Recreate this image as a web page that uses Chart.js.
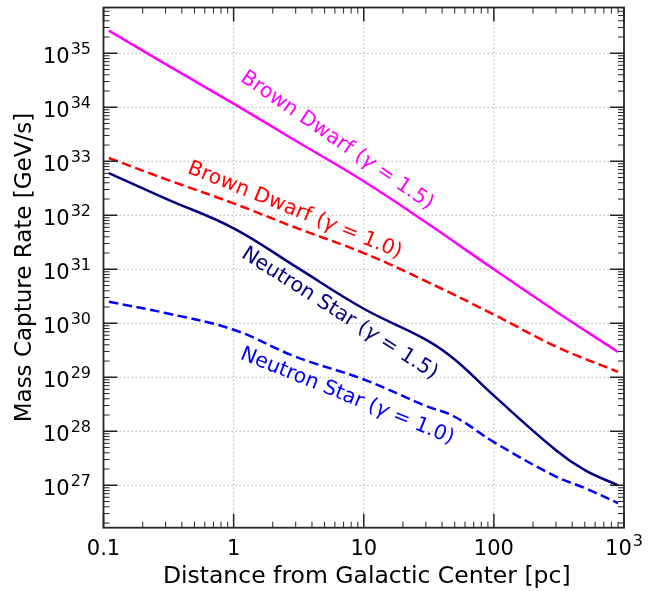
<!DOCTYPE html>
<html>
<head>
<meta charset="utf-8">
<script src="https://cdn.jsdelivr.net/npm/chart.js@4"></script>
<style>
  body { margin: 0; background: #fff; }
  canvas { display: block; }
</style>
</head>
<body>
<canvas id="captureChart" width="667" height="591" style="width:667px;height:591px"></canvas>
<script>
// axis limits (pc and GeV/s)
const xMin = 0.1, xMax = 1000;
const yMin = 1.64e26, yMax = 7.05e35;

// brown dwarf curves
const bdDist = [0.11, 0.3, 1, 3, 10, 30, 100, 300, 900];
const bdGamma15 = [2.63e35, 6.31e34, 1.17e34, 2.4e33, 4.27e32, 7.41e31, 1.0e31, 1.66e30, 2.95e29];
const bdGamma10 = [1.15e33, 4.68e32, 1.66e32, 5.9e31, 2.0e31, 6.03e30, 1.45e30, 3.72e29, 1.26e29];

// neutron star curves
const nsDist = [0.11, 0.3, 1, 3, 10, 30, 50, 100, 300, 500, 900];
const nsGamma15 = [6.03e32, 2.04e32, 5.75e31, 1.12e31, 1.86e30, 5.0e29, 2.14e29, 4.57e28, 4.47e27, 1.91e27, 1.0e27];
const nsGamma10 = [2.51e30, 1.55e30, 7.59e29, 2.4e29, 9.12e28, 2.95e28, 1.86e28, 6.31e27, 1.45e27, 8.9e26, 4.68e26];

const xTicks = [0.1, 1, 10, 100, 1000];
const xTickLabels = ["0.1", "1", "10", "100", "10^3"];
const yTicks = [1e27, 1e28, 1e29, 1e30, 1e31, 1e32, 1e33, 1e34, 1e35];
const yTickLabels = ["10^27", "10^28", "10^29", "10^30", "10^31", "10^32", "10^33", "10^34", "10^35"];

// curve labels: text, anchor (data coords), angle in degrees
const curveLabels = [
  { pre: "Brown Dwarf (", post: " = 1.5)", x: 5.9, y: 2.0e33, angle: 34.5, color: "#ff00ff" },
  { pre: "Brown Dwarf (", post: " = 1.0)", x: 2.85, y: 1.0e32, angle: 22, color: "#ff0000" },
  { pre: "Neutron Star (", post: " = 1.5)", x: 6.2, y: 1.25e30, angle: 32.5, color: "#000080" },
  { pre: "Neutron Star (", post: " = 1.0)", x: 7.2, y: 3.6e28, angle: 22, color: "#0000ff" }
];

const FONT = "'DejaVu Sans', 'Liberation Sans', sans-serif";
Chart.defaults.font.family = FONT;

function toPoints(xs, ys) {
  return xs.map((x, i) => ({ x: x, y: ys[i] }));
}

function drawPow(ctx, label, x, baseY, align) {
  const parts = label.split("^");
  ctx.font = "21px " + FONT;
  const wBase = ctx.measureText(parts[0]).width;
  let wExp = 0;
  if (parts[1]) {
    ctx.font = "16px " + FONT;
    wExp = ctx.measureText(parts[1]).width + 1;
  }
  const total = wBase + wExp;
  let start = align === "right" ? x - total : x - total / 2;
  ctx.textAlign = "left";
  ctx.textBaseline = "alphabetic";
  ctx.font = "21px " + FONT;
  ctx.fillText(parts[0], start, baseY);
  if (parts[1]) {
    ctx.font = "16px " + FONT;
    ctx.fillText(parts[1], start + wBase + 1, baseY - 9);
  }
}

function minorValues(lo, hi) {
  const out = [];
  for (let e = Math.floor(Math.log10(lo)); e <= Math.ceil(Math.log10(hi)); e++) {
    for (let m = 2; m <= 9; m++) {
      const v = m * Math.pow(10, e);
      if (v > lo && v < hi) out.push(v);
    }
  }
  return out;
}

const framePlugin = {
  id: "frame",
  beforeDatasetsDraw(chart) {
    const { ctx, chartArea: a, scales: { x, y } } = chart;
    ctx.save();
    ctx.strokeStyle = "#b0b0b0";
    ctx.lineWidth = 1;
    ctx.setLineDash([1.5, 2.5]);
    xTicks.forEach(v => {
      const px = x.getPixelForValue(v);
      ctx.beginPath(); ctx.moveTo(px, a.top); ctx.lineTo(px, a.bottom); ctx.stroke();
    });
    yTicks.forEach(v => {
      const py = y.getPixelForValue(v);
      ctx.beginPath(); ctx.moveTo(a.left, py); ctx.lineTo(a.right, py); ctx.stroke();
    });
    ctx.restore();
  },
  afterDraw(chart) {
    const { ctx, chartArea: a, scales: { x, y } } = chart;
    ctx.save();
    ctx.strokeStyle = "#222";

    // inward ticks on all four sides
    const tickX = (vals, len, w) => {
      ctx.lineWidth = w;
      vals.forEach(v => {
        const px = x.getPixelForValue(v);
        ctx.beginPath();
        ctx.moveTo(px, a.bottom); ctx.lineTo(px, a.bottom - len);
        ctx.moveTo(px, a.top); ctx.lineTo(px, a.top + len);
        ctx.stroke();
      });
    };
    const tickY = (vals, len, w) => {
      ctx.lineWidth = w;
      vals.forEach(v => {
        const py = y.getPixelForValue(v);
        ctx.beginPath();
        ctx.moveTo(a.left, py); ctx.lineTo(a.left + len, py);
        ctx.moveTo(a.right, py); ctx.lineTo(a.right - len, py);
        ctx.stroke();
      });
    };
    tickX(minorValues(xMin, xMax), 6, 1);
    tickX(xTicks, 14, 1.5);
    tickY(minorValues(yMin, yMax), 6, 1);
    tickY(yTicks, 14, 1.5);

    // spines
    ctx.lineWidth = 1.8;
    ctx.strokeStyle = "#262626";
    ctx.strokeRect(a.left, a.top, a.right - a.left, a.bottom - a.top);

    // tick labels
    ctx.fillStyle = "#000";
    xTicks.forEach((v, i) => drawPow(ctx, xTickLabels[i], x.getPixelForValue(v), 555, "center"));
    yTicks.forEach((v, i) => drawPow(ctx, yTickLabels[i], 91, y.getPixelForValue(v) + 9.5, "right"));

    // axis titles
    ctx.font = "23.5px " + FONT;
    ctx.textAlign = "center";
    ctx.textBaseline = "alphabetic";
    ctx.fillText("Distance from Galactic Center [pc]", (a.left + a.right) / 2 + 3, 583);
    ctx.font = "23px " + FONT;
    ctx.save();
    ctx.translate(31, (a.top + a.bottom) / 2);
    ctx.rotate(-Math.PI / 2);
    ctx.fillText("Mass Capture Rate [GeV/s]", 0, 0);
    ctx.restore();

    // curve labels
    curveLabels.forEach(l => {
      ctx.save();
      ctx.translate(x.getPixelForValue(l.x), y.getPixelForValue(l.y));
      ctx.rotate(l.angle * Math.PI / 180);
      ctx.fillStyle = l.color;
      ctx.textAlign = "left";
      ctx.font = "20.5px " + FONT;
      const w1 = ctx.measureText(l.pre).width;
      const w3 = ctx.measureText(l.post).width;
      ctx.font = "italic 20.5px " + FONT;
      const w2 = ctx.measureText("\u03b3").width;
      const cx = -(w1 + w2 + w3) / 2;
      ctx.font = "20.5px " + FONT;
      ctx.fillText(l.pre, cx, 0);
      ctx.font = "italic 20.5px " + FONT;
      ctx.fillText("\u03b3", cx + w1, 0);
      ctx.font = "20.5px " + FONT;
      ctx.fillText(l.post, cx + w1 + w2, 0);
      ctx.restore();
    });
    ctx.restore();
  }
};

const ctx = document.getElementById("captureChart").getContext("2d");
new Chart(ctx, {
  type: "line",
  data: {
    datasets: [
      { label: "Brown Dwarf (γ = 1.5)", data: toPoints(bdDist, bdGamma15), borderColor: "#ff00ff", borderWidth: 2.5 },
      { label: "Brown Dwarf (γ = 1.0)", data: toPoints(bdDist, bdGamma10), borderColor: "#ff0000", borderWidth: 2.5, borderDash: [9.5, 4.5] },
      { label: "Neutron Star (γ = 1.5)", data: toPoints(nsDist, nsGamma15), borderColor: "#000080", borderWidth: 2.5 },
      { label: "Neutron Star (γ = 1.0)", data: toPoints(nsDist, nsGamma10), borderColor: "#0000ff", borderWidth: 2.5, borderDash: [9.5, 4.5] }
    ]
  },
  options: {
    responsive: false,
    animation: false,
    layout: { padding: { top: 7.5, right: 43, left: 0, bottom: 0 } },
    plugins: { legend: { display: false }, tooltip: { enabled: false } },
    elements: {
      point: { radius: 0 },
      line: { tension: 0.4, fill: false }
    },
    scales: {
      x: {
        type: "logarithmic", min: xMin, max: xMax,
        grid: { display: false }, border: { display: false }, ticks: { display: false },
        afterFit: s => { s.height = 63.3; }
      },
      y: {
        type: "logarithmic", min: yMin, max: yMax,
        grid: { display: false }, border: { display: false }, ticks: { display: false },
        afterFit: s => { s.width = 103.5; }
      }
    }
  },
  plugins: [framePlugin]
});
</script>
</body>
</html>
